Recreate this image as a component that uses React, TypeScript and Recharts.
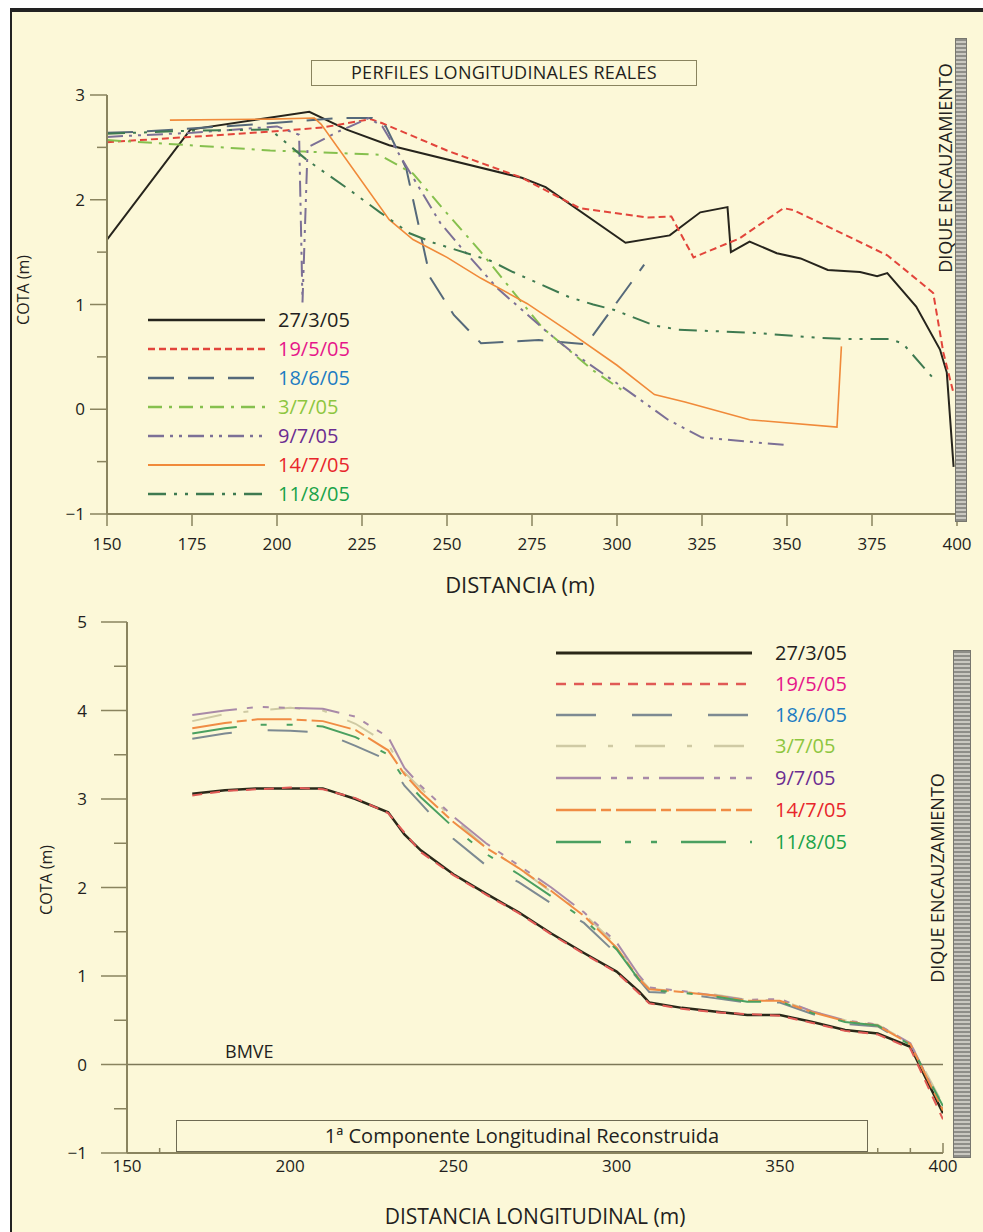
import React from 'react';
import { LineChart, Line, XAxis, YAxis, ReferenceLine } from 'recharts';

const FONT = '"Open Sans", "DejaVu Sans", sans-serif';
const BG = '#fcf8d8';
const AXIS = '#8a845f';

const seriesNames = ['27/3/05', '19/5/05', '18/6/05', '3/7/05', '9/7/05', '14/7/05', '11/8/05'];
const labelColors = ['#231f20', '#e6168a', '#1d7cc2', '#8dc63f', '#6b2d91', '#e8262b', '#1aa34a'];

// ---- top panel: perfiles longitudinales reales ----
const topX27 = [150, 174.5, 209.5, 220.5, 233, 272, 279, 302.5, 315.5, 324.5, 332.5, 333.5, 339, 347, 354, 362, 371.5, 376.5, 379.5, 388, 395, 397, 399];
const topY27 = [1.62, 2.67, 2.84, 2.67, 2.52, 2.21, 2.12, 1.59, 1.66, 1.88, 1.93, 1.5, 1.6, 1.49, 1.44, 1.33, 1.31, 1.27, 1.3, 0.98, 0.57, 0.35, -0.55];
const topX195 = [150, 174.5, 198, 213.5, 227.5, 231, 250, 272, 289, 309, 316, 322.5, 336, 349, 352, 379.5, 393, 396, 399];
const topY195 = [2.55, 2.6, 2.65, 2.69, 2.77, 2.73, 2.47, 2.21, 1.92, 1.83, 1.84, 1.45, 1.63, 1.92, 1.9, 1.47, 1.11, 0.54, 0.15];
const topX186 = [150, 160, 170, 198, 218, 228, 232, 238, 245, 252, 260, 277, 291, 308];
const topY186 = [2.64, 2.65, 2.67, 2.73, 2.78, 2.78, 2.7, 2.3, 1.26, 0.9, 0.63, 0.66, 0.62, 1.38];
const topX37 = [150, 174.5, 198, 208, 230, 240, 250, 260, 270, 278, 293, 303];
const topY37 = [2.57, 2.52, 2.47, 2.46, 2.43, 2.25, 1.87, 1.5, 1.1, 0.78, 0.37, 0.15];
const topX97 = [150, 175, 200, 206.5, 207.5, 209, 218, 227, 231, 248, 254, 265, 279, 287, 303, 315, 325, 349];
const topY97 = [2.6, 2.64, 2.7, 2.62, 1.02, 2.5, 2.65, 2.78, 2.7, 1.78, 1.55, 1.15, 0.75, 0.54, 0.18, -0.1, -0.27, -0.34];
const topX147 = [168.5, 198, 211, 213, 233, 240, 250, 260, 273.5, 285, 300, 311, 320, 339, 364.7, 366];
const topY147 = [2.76, 2.77, 2.78, 2.72, 1.81, 1.62, 1.45, 1.25, 1.01, 0.76, 0.42, 0.14, 0.07, -0.1, -0.17, 0.6];
const topX118 = [150, 175, 198, 208.8, 221.5, 230.3, 239, 246, 262.6, 269.4, 286, 293, 299, 311, 318, 340, 360, 368, 380, 384, 394];
const topY118 = [2.63, 2.66, 2.67, 2.38, 2.09, 1.88, 1.68, 1.59, 1.42, 1.31, 1.07, 1.0, 0.95, 0.8, 0.76, 0.73, 0.68, 0.67, 0.67, 0.63, 0.26];

const topXs = [topX27, topX195, topX186, topX37, topX97, topX147, topX118];
const topYs = [topY27, topY195, topY186, topY37, topY97, topY147, topY118];
const topStroke = ['#26241c', '#e2453b', '#55697a', '#86c04e', '#7c7096', '#f08a3a', '#3e7a50'];
const topDash = ['', '7 4', '26 14', '14 7 3 7', '16 6 3 6 3 6', '', '18 8 3 8 3 8'];
const topWidth = [2, 2, 2, 2, 2, 1.6, 2];

const topTicksX = [150, 175, 200, 225, 250, 275, 300, 325, 350, 375, 400];
const topTicksY = [-1, -0.5, 0, 0.5, 1, 1.5, 2, 2.5, 3];

// ---- bottom panel: 1a componente longitudinal reconstruida ----
const botX = [170, 180, 190, 200, 210, 220, 230, 235, 240, 250, 260, 270, 280, 290, 300, 307, 310, 320, 330, 340, 350, 360, 370, 380, 390, 400];
const botY27 = [3.06, 3.1, 3.12, 3.12, 3.12, 3.0, 2.85, 2.6, 2.42, 2.15, 1.93, 1.72, 1.48, 1.26, 1.05, 0.82, 0.7, 0.64, 0.6, 0.56, 0.56, 0.48, 0.39, 0.35, 0.2, -0.55];
const botY195 = [3.04, 3.09, 3.11, 3.13, 3.11, 3.01, 2.84, 2.62, 2.4, 2.14, 1.92, 1.71, 1.47, 1.25, 1.04, 0.8, 0.69, 0.63, 0.59, 0.57, 0.55, 0.47, 0.38, 0.34, 0.18, -0.62];
const botY186 = [3.68, 3.74, 3.78, 3.77, 3.75, 3.6, 3.44, 3.15, 2.95, 2.55, 2.25, 2.06, 1.82, 1.6, 1.25, 0.95, 0.82, 0.8, 0.75, 0.7, 0.7, 0.57, 0.46, 0.43, 0.22, -0.48];
const botY37 = [3.88, 3.96, 4.0, 4.03, 4.0, 3.85, 3.62, 3.3, 3.12, 2.78, 2.45, 2.22, 1.95, 1.7, 1.35, 0.98, 0.86, 0.82, 0.79, 0.73, 0.73, 0.6, 0.5, 0.45, 0.24, -0.45];
const botY97 = [3.95, 4.0, 4.04, 4.03, 4.02, 3.93, 3.7, 3.35, 3.15, 2.8, 2.5, 2.25, 2.0, 1.72, 1.38, 1.0, 0.87, 0.83, 0.78, 0.73, 0.74, 0.6, 0.5, 0.45, 0.24, -0.5];
const botY147 = [3.8, 3.86, 3.9, 3.9, 3.88, 3.78, 3.55, 3.28, 3.08, 2.74, 2.45, 2.22, 1.96, 1.68, 1.32, 0.96, 0.85, 0.82, 0.78, 0.72, 0.72, 0.59, 0.49, 0.44, 0.23, -0.52];
const botY118 = [3.74, 3.8, 3.84, 3.84, 3.82, 3.7, 3.5, 3.22, 3.02, 2.68, 2.38, 2.15, 1.9, 1.64, 1.3, 0.95, 0.84, 0.81, 0.77, 0.71, 0.71, 0.58, 0.48, 0.44, 0.22, -0.47];

const botYs = [botY27, botY195, botY186, botY37, botY97, botY147, botY118];
const botStroke = ['#2a2818', '#e05a55', '#7d8a92', '#cfcaa4', '#a98aa8', '#f08c44', '#4aa060'];
const botDash = ['', '10 8', '40 36', '30 22 5 22', '45 10 6 10 6 10 6 10', '40 5 10 5', '45 24 6 20 6 24'];
const botWidth = [2.5, 2, 2, 2, 2, 2, 2];

const botTicksX = [150, 160, 170, 180, 190, 200, 210, 220, 230, 240, 250, 260, 270, 280, 290, 300, 310, 320, 330, 340, 350, 360, 370, 380, 390, 400];
const botTicksY = [-1, -0.5, 0, 0.5, 1, 1.5, 2, 2.5, 3, 3.5, 4, 4.5, 5];

const fmt = (v: number) => (v < 0 ? '\u2212' + Math.abs(v) : String(v));

const YTick = (props: any) => {
  const { x, y, payload, major, minor, gap } = props;
  const v = payload.value;
  const isMajor = Number.isInteger(v);
  const len = isMajor ? major : minor;
  return (
    <g>
      <line x1={x - len} x2={x} y1={y} y2={y} stroke={AXIS} strokeWidth={1.5} />
      {isMajor && (
        <text x={x - len - gap} y={y} dy={6} textAnchor="end" fontSize={17} fontFamily={FONT} fill="#231f20">
          {fmt(v)}
        </text>
      )}
    </g>
  );
};

const XTick = (props: any) => {
  const { x, y, payload, every, major, minor, down, labelDy } = props;
  const v = payload.value;
  const isMajor = v % every === 0;
  const len = isMajor ? major : minor;
  const dir = down ? 1 : -1;
  return (
    <g>
      <line x1={x} x2={x} y1={y} y2={y + dir * len} stroke={AXIS} strokeWidth={1.5} />
      {isMajor && (
        <text x={x} y={y + labelDy} textAnchor="middle" fontSize={17} fontFamily={FONT} fill="#231f20">
          {v}
        </text>
      )}
    </g>
  );
};

const Legend = ({ strokes, dashes, widths, x1, x2, rows, textX, fontSize }: any) => (
  <>
    {seriesNames.map((n, i) => (
      <g key={n}>
        <line x1={x1} x2={x2} y1={rows[i]} y2={rows[i]} stroke={strokes[i]} strokeDasharray={dashes[i]} strokeWidth={widths[i] + 0.5} />
        <text x={textX} y={rows[i]} dy={7} fontSize={fontSize} fontFamily={FONT} fill={labelColors[i]}>
          {n}
        </text>
      </g>
    ))}
  </>
);

const Dike = ({ left, top, width, height }: any) => (
  <div
    style={{
      position: 'absolute',
      left,
      top,
      width,
      height,
      background: 'repeating-linear-gradient(0deg, #8e8e88 0px, #8e8e88 2px, #c9c8c0 2px, #c9c8c0 4px)',
      border: '1px solid #77776f',
      boxSizing: 'border-box',
    }}
  />
);

// rotated label drawn in svg so it centres exactly on (cx, cy)
const Rotated = ({ text, cx, cy, size }: any) => (
  <text
    x={cx}
    y={cy}
    transform={`rotate(-90 ${cx} ${cy})`}
    textAnchor="middle"
    dominantBaseline="central"
    fontFamily={FONT}
    fontSize={size}
    fill="#231f20"
  >
    {text}
  </text>
);

export default function App() {
  return (
    <div style={{ position: 'absolute', left: 0, top: 0, width: 983, height: 1232, background: '#fff', overflow: 'hidden' }}>
      <div
        style={{
          position: 'absolute',
          left: 10,
          top: 8,
          width: 990,
          height: 1240,
          background: BG,
          borderTop: '4px solid #222',
          borderLeft: '2px solid #222',
        }}
      />

      {/* top chart */}
      <div style={{ position: 'absolute', left: 0, top: 0 }}>
        <LineChart width={983} height={600} margin={{ top: 95, right: 26, bottom: 46, left: 0 }}>
          <XAxis
            dataKey="x"
            type="number"
            domain={[150, 400]}
            ticks={topTicksX}
            allowDataOverflow
            height={40}
            tickSize={0}
            tickMargin={0}
            stroke={AXIS}
            strokeWidth={2}
            tick={(p: any) => <XTick {...p} every={25} major={12} minor={6} down labelDy={36} />}
          />
          <YAxis
            type="number"
            domain={[-1, 3]}
            ticks={topTicksY}
            allowDataOverflow
            width={107}
            tickSize={0}
            tickMargin={0}
            stroke={AXIS}
            strokeWidth={2}
            tick={(p: any) => <YTick {...p} major={17} minor={10} gap={5} />}
          />
          {topXs.map((xs, i) => (
            <Line
              key={seriesNames[i]}
              data={xs.map((x, j) => ({ x, y: topYs[i][j] }))}
              dataKey="y"
              stroke={topStroke[i]}
              strokeDasharray={topDash[i]}
              strokeWidth={topWidth[i]}
              dot={false}
              isAnimationActive={false}
            />
          ))}
        </LineChart>
      </div>

      {/* bottom chart */}
      <div style={{ position: 'absolute', left: 0, top: 560 }}>
        <LineChart width={983} height={672} margin={{ top: 62, right: 40, bottom: 39, left: 0 }}>
          <XAxis
            dataKey="x"
            type="number"
            domain={[150, 400]}
            ticks={botTicksX}
            allowDataOverflow
            height={40}
            tickSize={0}
            tickMargin={0}
            stroke={AXIS}
            strokeWidth={2}
            tick={(p: any) => <XTick {...p} every={50} major={10} minor={5} down={false} labelDy={19} />}
          />
          <YAxis
            type="number"
            domain={[-1, 5]}
            ticks={botTicksY}
            allowDataOverflow
            width={127}
            tickSize={0}
            tickMargin={0}
            stroke={AXIS}
            strokeWidth={2}
            tick={(p: any) => <YTick {...p} major={26} minor={13} gap={14} />}
          />
          <ReferenceLine y={0} stroke="#7d7858" strokeWidth={1.5} />
          {botYs.map((ys, i) => (
            <Line
              key={seriesNames[i]}
              data={botX.map((x, j) => ({ x, y: ys[j] }))}
              dataKey="y"
              stroke={botStroke[i]}
              strokeDasharray={botDash[i]}
              strokeWidth={botWidth[i]}
              dot={false}
              isAnimationActive={false}
            />
          ))}
        </LineChart>
      </div>

      {/* title boxes */}
      <div
        style={{
          position: 'absolute',
          left: 311,
          top: 60,
          width: 386,
          height: 26,
          border: '1.5px solid #8a845f',
          boxSizing: 'border-box',
          background: BG,
          fontFamily: FONT,
          fontSize: 18,
          lineHeight: '23px',
          textAlign: 'center',
          color: '#231f20',
          letterSpacing: '0.3px',
        }}
      >
        PERFILES LONGITUDINALES REALES
      </div>
      <div
        style={{
          position: 'absolute',
          left: 176,
          top: 1120,
          width: 692,
          height: 32,
          border: '1.5px solid #6e6a52',
          boxSizing: 'border-box',
          background: BG,
          fontFamily: FONT,
          fontSize: 20,
          lineHeight: '29px',
          textAlign: 'center',
          color: '#231f20',
        }}
      >
        1ª Componente Longitudinal Reconstruida
      </div>

      {/* dikes */}
      <Dike left={955} top={38} width={12} height={484} />
      <Dike left={953} top={650} width={18} height={508} />

      {/* legends and free labels */}
      <svg style={{ position: 'absolute', left: 0, top: 0 }} width={983} height={1232}>
        <Legend
          strokes={topStroke}
          dashes={topDash}
          widths={topWidth}
          x1={148}
          x2={265}
          rows={[320, 349, 378, 407, 436, 465, 494]}
          textX={278}
          fontSize={20}
        />
        <Legend
          strokes={botStroke}
          dashes={botDash}
          widths={botWidth}
          x1={556}
          x2={752}
          rows={[653, 684, 715, 746, 778, 810, 842]}
          textX={775}
          fontSize={20}
        />
        <text x={520} y={593} textAnchor="middle" fontFamily={FONT} fontSize={22} fill="#231f20">
          DISTANCIA (m)
        </text>
        <text x={535} y={1224} textAnchor="middle" fontFamily={FONT} fontSize={21} fill="#231f20">
          DISTANCIA LONGITUDINAL (m)
        </text>
        <text x={225} y={1058} fontFamily={FONT} fontSize={18} fill="#231f20">
          BMVE
        </text>
        <Rotated text="COTA (m)" cx={23} cy={290} size={16} />
        <Rotated text="COTA (m)" cx={46} cy={880} size={16} />
        <Rotated text="DIQUE ENCAUZAMIENTO" cx={945} cy={168} size={18} />
        <Rotated text="DIQUE ENCAUZAMIENTO" cx={937} cy={878} size={18} />
      </svg>
    </div>
  );
}
